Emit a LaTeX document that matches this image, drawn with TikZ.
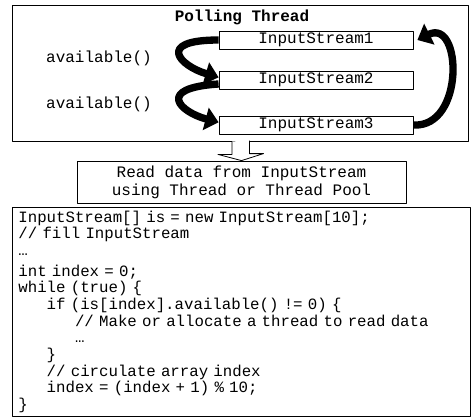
\documentclass[tikz,border=0pt]{standalone}
\usepackage{fontspec}
\setmonofont{Liberation Mono}
\usetikzlibrary{arrows.meta,calc}
\newcommand{\ind}{\hphantom{xxx}}
\begin{document}
\begin{tikzpicture}[x=0.75pt, y=-0.75pt, font=\ttfamily\fontsize{12}{13.5}\selectfont, line join=round,
	frame/.style={draw, line width=0.6pt, inner sep=0pt},
	streambox/.style={frame, minimum width=145.5pt, minimum height=13.5pt},
	fatarrow/.style={line width=5.5pt, -{Triangle[length=10pt,width=17pt]}}]
				\useasboundingbox (0,0) rectangle (472,418);
				\node[frame, minimum width=342pt, minimum height=102pt] (poll) at (240,73) {};
				\node (title) at (242,17) {\bfseries Polling Thread};
				\node[streambox] (is1) at (316,40) {InputStream1};
				\node[streambox] (is2) at (316,80) {InputStream2};
				\node[streambox] (is3) at (316,125) {InputStream3};
				\node (av1) at (99,58) {available()};
				\node (av2) at (99,104) {available()};
				\draw[fatarrow] (is1.west) .. controls (155,40) and (180,66) .. ([yshift=2pt]is2.west);
				\draw[fatarrow] ([yshift=-3pt]is2.west) .. controls (155,88) and (180,112) .. ([yshift=2pt]is3.west);
				\draw[fatarrow] (is3.east) .. controls (465,128) and (462,18) .. ([xshift=3pt]is1.east);
				\node[frame, minimum width=246.75pt, minimum height=31.5pt, align=center] (read) at (241.5,182) {Read data from InputStream\\using Thread or Thread Pool};
				\draw[line width=0.6pt, fill=white] ($(poll.south)+(-8,0)$) -- ++(0,13) -- ++(-14,0) -- (read.north) -- ++(22,-7) -- ++(-14,0) -- ++(0,-13);
				\node[frame, anchor=north west, minimum width=343.5pt, minimum height=156.75pt, inner xsep=4.5pt, text width=334.5pt, align=left, font=\ttfamily\fontsize{11.8}{12.5}\selectfont] (code) at (12,207) {%
					InputStream[] is = new InputStream[10];\\
					// fill InputStream\\
					…\\[3pt]
					int index = 0;\\
					while (true) \{\\
					\ind if (is[index].available() != 0) \{\\
					\ind\ind // Make or allocate a thread to read data\\
					\ind\ind …\\
					\ind \}\\
					\ind // circulate array index\\
					\ind index = (index + 1) \% 10;\\
					\}};
\end{tikzpicture}
\end{document}
